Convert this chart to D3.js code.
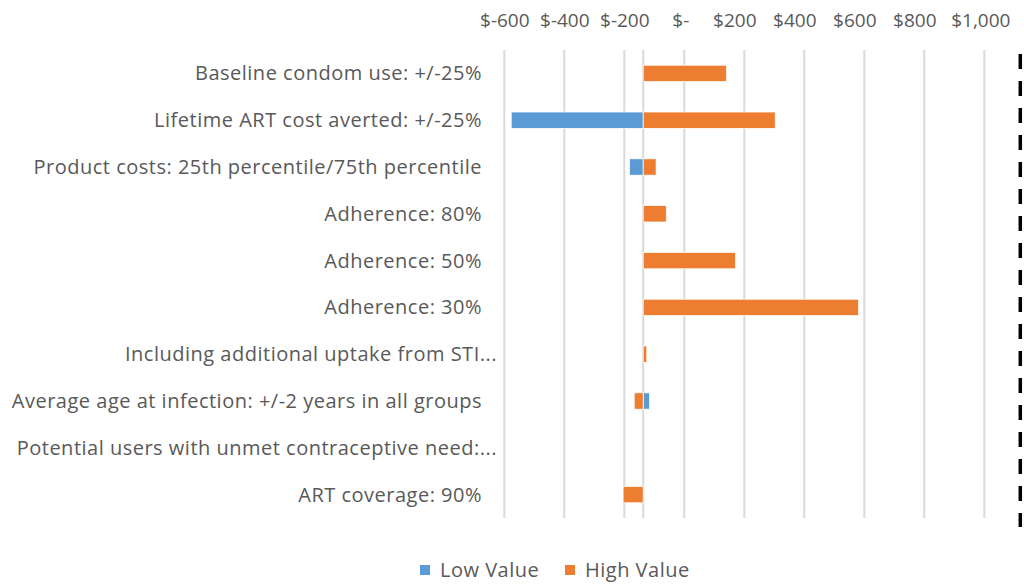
<!DOCTYPE html>
<html>
<head>
<meta charset="utf-8">
<script src="https://cdn.jsdelivr.net/npm/d3@7"></script>
<style>
  html, body { margin: 0; padding: 0; background: #fff; }
  svg { display: block; font-family: "Open Sans", Lato, sans-serif; }
</style>
</head>
<body>
<svg id="chart" width="1024" height="587"></svg>
<script>
// Sensitivity parameters (top to bottom)
const categories = [
  "Baseline condom use: +/-25%",
  "Lifetime ART cost averted: +/-25%",
  "Product costs: 25th percentile/75th percentile",
  "Adherence: 80%",
  "Adherence: 50%",
  "Adherence: 30%",
  "Including additional uptake from STI...",
  "Average age at infection: +/-2 years in all groups",
  "Potential users with unmet contraceptive need:...",
  "ART coverage: 90%"
];
// Base-case result the bars are drawn from
const baseValue = -137;
// Result with the parameter at its low / high value (null = not varied)
const lowValues  = [null, -577, -183, null, null, null, null, -116, -137, null];
const highValues = [141, 303, -94, -60, 171, 581, -125, -167, -137, -204];
// Threshold marked with the dashed line
const thresholdValue = 1120;
const tickValues = [-600, -400, -200, 0, 200, 400, 600, 800, 1000];
const seriesNames = ["Low Value", "High Value"];
const seriesColors = ["#5B9BD5", "#ED7D31"];

const svg = d3.select("#chart");
const textColor = "#595959";
const gridColor = "#D9D9D9";
const fontSize = "20px";
const spacing = "0.5px";

const x = d3.scaleLinear().domain([-600, 1000]).range([504.3, 984.3]);
const y = d3.scaleBand().domain(categories).range([50, 518])
  .paddingInner(0.65).paddingOuter(0.325);

// Vertical gridlines
svg.append("g").selectAll("line").data(tickValues).join("line")
  .attr("x1", d => x(d)).attr("x2", d => x(d))
  .attr("y1", 50).attr("y2", 518)
  .attr("stroke", gridColor).attr("stroke-width", 2);

// Category axis line at the base value
svg.append("line")
  .attr("x1", x(baseValue)).attr("x2", x(baseValue))
  .attr("y1", 50).attr("y2", 518)
  .attr("stroke", gridColor).attr("stroke-width", 2);

// Accounting-style currency labels along the top
const num = d3.format(",");
const fmt = d => d === 0 ? "$-" : d < 0 ? "$-" + num(-d) : "$" + num(d);
const xAxis = d3.axisTop(x).tickValues(tickValues).tickFormat(fmt).tickSize(0).tickPadding(0);
const gx = svg.append("g").attr("transform", "translate(0,27)").call(xAxis);
gx.select(".domain").remove();
gx.selectAll("text")
  .attr("fill", textColor)
  .style("font-family", "'Open Sans', Lato, sans-serif")
  .style("font-size", "19px")
  .attr("dx", d => d > 0 && d < 1000 ? -10 : d === 0 ? -4 : d >= 1000 ? -4 : 0);

// Category labels
svg.append("g").selectAll("text").data(categories).join("text")
  .attr("x", d => d.endsWith("...") ? 497 : 482)
  .attr("y", d => y(d) + y.bandwidth() / 2)
  .attr("dy", "0.35em")
  .attr("text-anchor", "end")
  .attr("fill", textColor)
  .style("font-size", fontSize)
  .style("letter-spacing", spacing)
  .text(d => d);

// Bars drawn from the base value to each scenario result
const seriesValues = [lowValues, highValues];
seriesValues.forEach((vals, si) => {
  const rows = categories.map((c, i) => ({ c, v: vals[i] })).filter(r => r.v !== null);
  svg.append("g").selectAll("rect").data(rows).join("rect")
    .attr("x", r => Math.min(x(r.v), x(baseValue)))
    .attr("width", r => Math.abs(x(r.v) - x(baseValue)))
    .attr("y", r => y(r.c))
    .attr("height", y.bandwidth())
    .attr("fill", seriesColors[si])
    .attr("stroke", "#fff")
    .attr("stroke-width", 0.75);
});

// Threshold line
svg.append("line")
  .attr("x1", x(thresholdValue)).attr("x2", x(thresholdValue))
  .attr("y1", 54).attr("y2", 527)
  .attr("stroke", "#000").attr("stroke-width", 3.5)
  .attr("stroke-dasharray", "15,12");

// Legend
const legend = svg.append("g");
const legendX = [420, 565];
seriesNames.forEach((name, i) => {
  legend.append("rect")
    .attr("x", legendX[i]).attr("y", 565)
    .attr("width", 10).attr("height", 10)
    .attr("fill", seriesColors[i]);
  legend.append("text")
    .attr("x", legendX[i] + 20).attr("y", 570)
    .attr("dy", "0.35em")
    .attr("fill", textColor)
    .style("font-size", fontSize)
    .style("letter-spacing", spacing)
    .text(name);
});
</script>
</body>
</html>
